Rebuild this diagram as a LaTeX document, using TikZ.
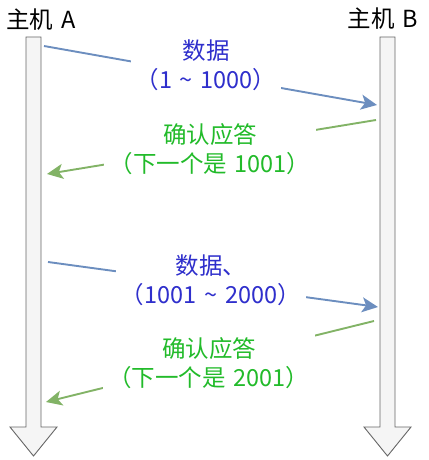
\documentclass[tikz,border=0pt]{standalone}
\usepackage{fontspec}
\setmainfont{Noto Sans CJK SC}
\usetikzlibrary{arrows.meta}

\definecolor{data_line}{HTML}{6C8EBF}
\definecolor{ack_line}{HTML}{82B366}
\definecolor{data_text}{HTML}{2F2FCC}
\definecolor{ack_text}{HTML}{22BB2A}
\definecolor{bar_fill}{HTML}{F5F5F5}
\definecolor{bar_draw}{HTML}{666666}

\begin{document}
\begin{tikzpicture}[
		x=1pt, y=-1pt,
		every node/.style={inner sep=5pt, font=\fontsize{23.5}{29}\selectfont},
		timeline/.style={draw=bar_draw, fill=bar_fill, line width=0.9pt, line join=miter},
		data/.style={draw=data_line, line width=1.9pt, -{Stealth[length=16pt, width=15pt, inset=4pt]}},
		ack/.style={draw=ack_line, line width=1.9pt, -{Stealth[length=16pt, width=15pt, inset=4pt]}},
		msg_label/.style={fill=white, align=center}
	]
  \useasboundingbox (0, 0) rectangle (428, 460);
  % the two hosts
  \foreach \x in {33.5, 387.5} {
    \draw [timeline] ({\x-7.5}, 37) -- ({\x+7.5}, 37) -- ({\x+7.5}, 427) -- ({\x+23.5}, 427)
      -- (\x, 456) -- ({\x-23.5}, 427) -- ({\x-7.5}, 427) -- cycle;
  }
  \node (host_A) at (41, 20) {主机\,\,A};
  \node (host_B) at (383, 19) {主机\,\,B};
  % ends of the messages
  \coordinate (a_1) at (44, 46);
  \coordinate (b_1) at (377, 105);
  \coordinate (b_2) at (376, 120);
  \coordinate (a_2) at (47, 174);
  \coordinate (a_3) at (48, 262);
  \coordinate (b_3) at (378, 307);
  \coordinate (b_4) at (374, 321);
  \coordinate (a_4) at (46, 402);
  \draw [data] (a_1) -- (b_1);
  \draw [ack] (b_2) -- (a_2);
  \draw [data] (a_3) -- (b_3);
  \draw [ack] (b_4) -- (a_4);
  % labels on top of the lines
  \node (data_1) [msg_label, text=data_text] at (206, 65) {数据\\（1\,\,\textasciitilde\,\,1000）};
  \node (ack_1) [msg_label, text=ack_text] at (210, 149) {确认应答\\（下一个是\,\,1001）};
  \node (data_2) [msg_label, text=data_text] at (211, 280) {数据、\\（1001\,\,\textasciitilde\,\,2000）};
  \node (ack_2) [msg_label, text=ack_text] at (209, 363) {确认应答\\（下一个是\,\,2001）};
\end{tikzpicture}
\end{document}
